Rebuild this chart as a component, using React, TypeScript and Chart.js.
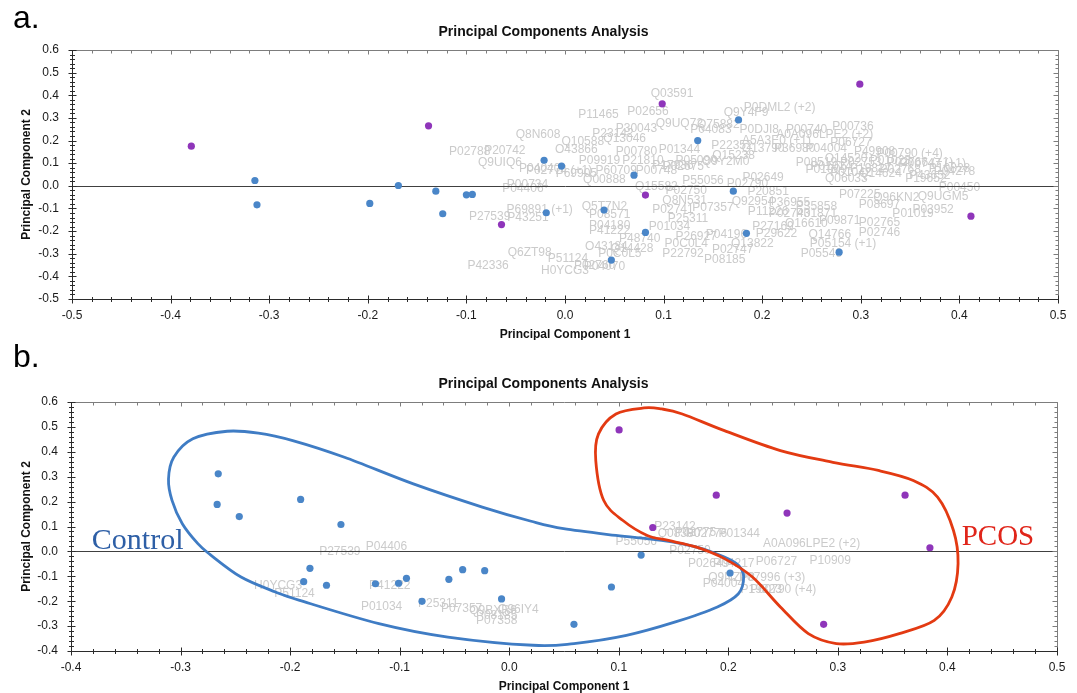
import React, { useEffect, useRef } from "react";
import Chart from "chart.js/auto";

type Pt = [number, number];
type Lbl = [string, number, number];

// ---------- Panel a ----------
const aControl: Pt[] = [
  [-0.3145, 0.0235], [-0.3124, -0.084], [-0.198, -0.078], [-0.169, 0.0015], [-0.131, -0.0235],
  [-0.124, -0.1235], [-0.1, -0.04], [-0.094, -0.038], [-0.0212, 0.113], [-0.0035, 0.087],
  [0.1346, 0.2], [0.176, 0.291], [0.07, 0.047], [0.1707, -0.0235], [-0.019, -0.119],
  [0.0396, -0.107], [0.0816, -0.206], [0.184, -0.21], [0.047, -0.328], [0.278, -0.293],
];
const aPcos: Pt[] = [
  [-0.379, 0.175], [-0.1384, 0.265], [-0.0644, -0.171], [0.0986, 0.362], [0.0816, -0.041],
  [0.299, 0.449], [0.4117, -0.134],
];
const aLabels: Lbl[] = [
  ["Q03591", 0.1085, 0.405], ["P11465", 0.034, 0.316], ["P02656", 0.0842, 0.327],
  ["P0DML2 (+2)", 0.2177, 0.346], ["Q9Y4F9", 0.1836, 0.322], ["Q9UQ72", 0.116, 0.275],
  ["Q75882", 0.1555, 0.272], ["P30043", 0.0724, 0.253], ["P04083", 0.148, 0.25],
  ["P0DJI8", 0.197, 0.246], ["P00740", 0.245, 0.249], ["P00736", 0.292, 0.263],
  ["Q8N608", -0.0274, 0.224], ["P23142", 0.0487, 0.231], ["Q13046", 0.0605, 0.209],
  ["Q10588", 0.018, 0.194], ["P02788", -0.0967, 0.15], ["P20742", -0.061, 0.153],
  ["O43866", 0.0115, 0.158], ["P00780", 0.0725, 0.15], ["P01344", 0.116, 0.158],
  ["Q9UIQ6", -0.066, 0.1015], ["A0A096LPE2 (+2)", 0.2634, 0.2237], ["P06727", 0.29, 0.19],
  ["A5A3E0 (+1)", 0.2144, 0.199], ["P22352", 0.1694, 0.1766], ["Q13790", 0.201, 0.165],
  ["P36980", 0.233, 0.165], ["P04004", 0.265, 0.165], ["P49908", 0.314, 0.15],
  ["P00790 (+4)", 0.3495, 0.143], ["Q15238", 0.171, 0.132], ["Q9Y2M0", 0.163, 0.106],
  ["P05090", 0.133, 0.113], ["P17936", 0.1095, 0.091], ["P02675", 0.12, 0.084],
  ["P60709", 0.052, 0.069], ["P00748", 0.0927, 0.069], ["P04040", -0.0256, 0.077],
  ["P69905", 0.0115, 0.055], ["P02774 (+1)", -0.006, 0.065], ["P09919", 0.035, 0.113],
  ["P21810", 0.079, 0.113], ["Q00888", 0.04, 0.025], ["P04406", -0.0427, -0.0146],
  ["P00734", -0.038, 0.003], ["Q15582", 0.0927, -0.004], ["P55056", 0.14, 0.021],
  ["P02750", 0.123, -0.023], ["P02649", 0.2009, 0.037], ["P20851", 0.206, -0.026],
  ["P02790", 0.185, 0.008], ["Q8N531", 0.1214, -0.0675], ["Q92954", 0.1907, -0.0706],
  ["P36955", 0.2277, -0.075], ["P02741", 0.1095, -0.107], ["P07357", 0.15, -0.097],
  ["P25311", 0.1247, -0.144], ["P11226", 0.206, -0.1147], ["P02743", 0.2277, -0.125],
  ["P35858", 0.255, -0.093], ["P01871", 0.255, -0.125], ["P69891 (+1)", -0.0257, -0.107],
  ["P27539", -0.0764, -0.137], ["P43251", -0.0375, -0.141], ["Q5T7N2", 0.04, -0.093],
  ["P08571", 0.0453, -0.129], ["P04180", 0.0453, -0.1765], ["P41222", 0.0453, -0.2],
  ["P01034", 0.106, -0.181], ["P48740", 0.0757, -0.232], ["P26927", 0.133, -0.225],
  ["P04196", 0.1637, -0.2175], ["P0C0L4", 0.123, -0.254], ["P02747", 0.17, -0.284],
  ["Q13822", 0.19, -0.257], ["O43184", 0.042, -0.269], ["Q14428", 0.068, -0.276],
  ["P0C0L5", 0.0556, -0.298], ["P22792", 0.1197, -0.298], ["P08185", 0.162, -0.325],
  ["Q6ZT98", -0.0358, -0.296], ["P51124", 0.003, -0.3235], ["P42336", -0.078, -0.353],
  ["H0YCG3", 0.0, -0.376], ["P02760", 0.03, -0.355], ["P04070", 0.04, -0.357],
  ["P27169", 0.211, -0.181], ["P29622", 0.2144, -0.21], ["Q16610", 0.2448, -0.166],
  ["P09871", 0.2786, -0.1545], ["P02765", 0.319, -0.163], ["P02746", 0.319, -0.207],
  ["Q14766", 0.2685, -0.2175], ["P05154 (+1)", 0.282, -0.254], ["P05546", 0.26, -0.298],
  ["Q06033", 0.2853, 0.0326], ["P07225", 0.2988, -0.041], ["Q96KN2", 0.336, -0.053],
  ["Q9UGM5", 0.3834, -0.0485], ["P00450", 0.4, -0.007], ["P01019", 0.353, -0.122],
  ["P03952", 0.3733, -0.104], ["P19652", 0.366, 0.0326], ["P08697", 0.319, -0.085],
  ["P08519", 0.255, 0.1], ["Q14520", 0.285, 0.12], ["P02753", 0.3, 0.1],
  ["P01023", 0.33, 0.11], ["P02766 (+1)", 0.36, 0.1], ["P00747 (+1)", 0.373, 0.096],
  ["P01024", 0.27, 0.085], ["P19827", 0.31, 0.075], ["P02768", 0.34, 0.07],
  ["P10828", 0.39, 0.075], ["P04278", 0.395, 0.062], ["P01042", 0.29, 0.06],
  ["Q14624", 0.32, 0.055], ["P43652", 0.37, 0.045], ["P01009", 0.265, 0.07],
];

// ---------- Panel b ----------
const bControl: Pt[] = [
  [-0.2656, 0.3115], [-0.2666, 0.1885], [-0.2464, 0.14], [-0.1904, 0.2086], [-0.1536, 0.108],
  [-0.1819, -0.068], [-0.1876, -0.1217], [-0.1668, -0.136], [-0.1221, -0.13], [-0.101, -0.128],
  [-0.0938, -0.108], [-0.0796, -0.2005], [-0.0551, -0.112], [-0.0425, -0.0735], [-0.0224, -0.0775],
  [-0.007, -0.191], [0.1204, -0.0147], [0.0933, -0.143], [0.0591, -0.293], [0.2016, -0.087],
];
const bPcos: Pt[] = [
  [0.1003, 0.488], [0.189, 0.226], [0.131, 0.096], [0.2536, 0.154], [0.3613, 0.226],
  [0.384, 0.0147], [0.287, -0.293],
];
const bLabels: Lbl[] = [
  ["P27539", -0.1546, -0.003], ["P04406", -0.112, 0.017], ["H0YCG3", -0.211, -0.136],
  ["P51124", -0.196, -0.17], ["P41222", -0.109, -0.136], ["P01034", -0.1165, -0.223],
  ["P25311", -0.0648, -0.21], ["P07357", -0.0435, -0.23], ["Q9BXR6", -0.0149, -0.237],
  ["P08185", -0.0115, -0.257], ["Q96IY4", 0.0084, -0.234], ["P07358", -0.0115, -0.277],
  ["P23142", 0.1513, 0.0975], ["Q08380", 0.155, 0.071], ["P02775", 0.17, 0.075],
  ["P02776", 0.18, 0.071], ["P01344", 0.21, 0.071], ["P55056", 0.116, 0.037],
  ["P02750", 0.165, 0.004], ["A0A096LPE2 (+2)", 0.276, 0.031], ["P02649", 0.182, -0.049],
  ["P04217", 0.205, -0.049], ["P06727", 0.244, -0.043], ["P10909", 0.293, -0.039],
  ["Q9NZP8", 0.203, -0.106], ["P07996 (+3)", 0.24, -0.106], ["P04004", 0.1955, -0.13],
  ["P19823", 0.23, -0.154], ["P00790 (+4)", 0.25, -0.154],
];
const bControlOutline: Pt[] = [
  [-0.2574, 0.4826], [-0.2888, 0.452], [-0.3062, 0.378], [-0.311, 0.291], [-0.3078, 0.205],
  [-0.2984, 0.111], [-0.2842, 0.031], [-0.2732, -0.012], [-0.2448, -0.103], [-0.2134, -0.163],
  [-0.1913, -0.1965], [-0.119, -0.29], [-0.056, -0.344], [0.0217, -0.377], [0.0591, -0.37],
  [0.107, -0.337], [0.1517, -0.283], [0.19, -0.223], [0.2092, -0.17], [0.214, -0.103],
  [0.2092, -0.056], [0.1964, -0.023], [0.171, 0.0174], [0.139, 0.044], [0.0974, 0.064],
  [0.0496, 0.091], [0.02, 0.121], [-0.0246, 0.178], [-0.0875, 0.271], [-0.1504, 0.378],
  [-0.1976, 0.445], [-0.229, 0.475],
];
const bPcosOutline: Pt[] = [
  [0.123, 0.576], [0.0974, 0.552], [0.0815, 0.472], [0.079, 0.365], [0.0863, 0.2045],
  [0.1038, 0.124], [0.126, 0.064], [0.1453, 0.044], [0.171, 0.017], [0.1964, -0.029],
  [0.222, -0.103], [0.2475, -0.223], [0.273, -0.33], [0.2986, -0.37], [0.324, -0.364],
  [0.356, -0.33], [0.388, -0.277], [0.404, -0.183], [0.4097, -0.049], [0.4055, 0.084],
  [0.391, 0.218], [0.3688, 0.285], [0.3369, 0.325], [0.2954, 0.358], [0.2475, 0.405],
  [0.1964, 0.485], [0.158, 0.552], [0.139, 0.572],
];
const bNotes: [string, number, number, string, string][] = [
  ["Control", -0.381, 0.008, "#2e5fa6", "30px"],
  ["PCOS", 0.413, 0.024, "#e0251a", "29px"],
];

const TITLE = "Principal Components Analysis";
const XTITLE = "Principal Component 1";
const YTITLE = "Principal Component 2";

const BLUE = "#4a86c8";
const PURPLE = "#8f35ba";
const SANS = '"Liberation Sans", Arial, sans-serif';

type PanelProps = {
  top: number; height: number; letter: string; letterY: number;
  xMin: number; xMax: number; yMin: number; yMax: number;
  control: Pt[]; pcos: Pt[]; labels: Lbl[];
  outlines: [Pt[], string][]; notes: [string, number, number, string, string][];
  padTop: number; padRight: number; yAxisW: number; xAxisH: number;
  titleY: number; xTitleY: number;
};

function smoothClosed(ctx: CanvasRenderingContext2D, pts: number[][]) {
  const n = pts.length;
  ctx.beginPath();
  ctx.moveTo(pts[0][0], pts[0][1]);
  for (let i = 0; i < n; i++) {
    const p0 = pts[(i - 1 + n) % n], p1 = pts[i], p2 = pts[(i + 1) % n], p3 = pts[(i + 2) % n];
    ctx.bezierCurveTo(
      p1[0] + (p2[0] - p0[0]) / 6, p1[1] + (p2[1] - p0[1]) / 6,
      p2[0] - (p3[0] - p1[0]) / 6, p2[1] - (p3[1] - p1[1]) / 6,
      p2[0], p2[1]
    );
  }
  ctx.closePath();
  ctx.stroke();
}

function Panel(p: PanelProps) {
  const ref = useRef<HTMLCanvasElement | null>(null);
  useEffect(() => {
    if (!ref.current) return;
    const decor = {
      id: "decor",
      beforeDatasetsDraw(chart: any) {
        const { ctx, chartArea: a, scales } = chart;
        const xs = scales.x, ys = scales.y;
        ctx.save();
        ctx.font = "12px " + SANS;
        ctx.fillStyle = "#cbcbcb";
        ctx.textAlign = "center";
        ctx.textBaseline = "middle";
        for (const [t, vx, vy] of p.labels) ctx.fillText(t, xs.getPixelForValue(vx), ys.getPixelForValue(vy));
        const ln = (x1: number, y1: number, x2: number, y2: number) => {
          ctx.beginPath(); ctx.moveTo(x1, y1); ctx.lineTo(x2, y2); ctx.stroke();
        };
        ctx.lineWidth = 1;
        const L = Math.round(a.left) + 0.5, R = Math.round(a.right) + 0.5;
        const T = Math.round(a.top) + 0.5, B = Math.round(a.bottom) + 0.5;
        // zero line
        const y0 = Math.round(ys.getPixelForValue(0)) + 0.5;
        ctx.strokeStyle = "#404040";
        ln(L, y0, R, y0);
        // top / right border + ticks
        ctx.strokeStyle = "#7d7d7d";
        ln(L, T, R, T);
        ln(R, T, R, B);
        const nx = Math.round((p.xMax - p.xMin) / 0.02);
        const ny = Math.round((p.yMax - p.yMin) / 0.02);
        for (let i = 0; i <= nx; i++) {
          const px = Math.round(xs.getPixelForValue(p.xMin + i * 0.02)) + 0.5;
          ln(px, T, px, T + (i % 5 === 0 ? 4 : 3));
        }
        for (let i = 0; i <= ny; i++) {
          const py = Math.round(ys.getPixelForValue(p.yMin + i * 0.02)) + 0.5;
          ln(R, py, R - (i % 5 === 0 ? 5 : 3), py);
        }
        // left / bottom axes + ticks
        ctx.strokeStyle = "#2b2b2b";
        ln(L, T, L, B);
        ln(L, B, R, B);
        for (let i = 0; i <= nx; i++) {
          const px = Math.round(xs.getPixelForValue(p.xMin + i * 0.02)) + 0.5;
          const h = i % 5 === 0 ? 4 : 2.5;
          ln(px, B - h, px, B + h);
        }
        for (let i = 0; i <= ny; i++) {
          const py = Math.round(ys.getPixelForValue(p.yMin + i * 0.02)) + 0.5;
          const w = i % 5 === 0 ? 4 : 2.5;
          ln(L - w, py, L + w, py);
        }
        ctx.restore();
      },
      afterDatasetsDraw(chart: any) {
        const { ctx, scales } = chart;
        const xs = scales.x, ys = scales.y;
        ctx.save();
        ctx.lineWidth = 2.8;
        ctx.lineJoin = "round";
        for (const [pts, col] of p.outlines) {
          ctx.strokeStyle = col;
          smoothClosed(ctx, pts.map(([vx, vy]) => [xs.getPixelForValue(vx), ys.getPixelForValue(vy)]));
        }
        ctx.textAlign = "left";
        ctx.textBaseline = "alphabetic";
        for (const [t, vx, vy, col, size] of p.notes) {
          ctx.font = size + ' "Liberation Serif", "Times New Roman", serif';
          ctx.fillStyle = col;
          ctx.fillText(t, xs.getPixelForValue(vx), ys.getPixelForValue(vy));
        }
        ctx.restore();
      },
      afterDraw(chart: any) {
        const { ctx, chartArea: a } = chart;
        ctx.save();
        ctx.fillStyle = "#111";
        ctx.textAlign = "center";
        ctx.textBaseline = "middle";
        ctx.font = "bold 14px " + SANS;
        ctx.fillText(TITLE, chart.width / 2 + 5, p.titleY);
        ctx.font = "bold 12px " + SANS;
        ctx.fillText(XTITLE, (a.left + a.right) / 2, p.xTitleY);
        ctx.save();
        ctx.translate(26.5, (a.top + a.bottom) / 2);
        ctx.rotate(-Math.PI / 2);
        ctx.fillText(YTITLE, 0, 0);
        ctx.restore();
        ctx.textAlign = "left";
        ctx.textBaseline = "alphabetic";
        ctx.font = "32px " + SANS;
        ctx.fillStyle = "#000";
        ctx.fillText(p.letter, 13, p.letterY);
        ctx.restore();
      },
    };
    const fmt = (v: any) => (Math.abs(Number(v)) < 1e-9 ? "0.0" : Number(v).toFixed(1));
    const tickFont = { family: "Liberation Sans", size: 12 };
    const chart = new Chart(ref.current, {
      type: "scatter",
      data: {
        datasets: [
          { data: p.control.map(([x, y]) => ({ x, y })), backgroundColor: BLUE, pointRadius: 3.6, borderWidth: 0 },
          { data: p.pcos.map(([x, y]) => ({ x, y })), backgroundColor: PURPLE, pointRadius: 3.6, borderWidth: 0 },
        ],
      },
      options: {
        responsive: false,
        animation: false,
        events: [],
        layout: { padding: { left: 0, right: p.padRight, top: p.padTop, bottom: 0 } },
        plugins: { legend: { display: false }, tooltip: { enabled: false } },
        scales: {
          x: {
            type: "linear", min: p.xMin, max: p.xMax,
            afterFit: (s: any) => { s.height = p.xAxisH; },
            grid: { display: false, drawTicks: false },
            border: { display: false },
            ticks: { stepSize: 0.1, autoSkip: false, maxRotation: 0, padding: 9, font: tickFont, color: "#1a1a1a", callback: fmt },
          },
          y: {
            type: "linear", min: p.yMin, max: p.yMax,
            afterFit: (s: any) => { s.width = p.yAxisW; },
            grid: { display: false, drawTicks: false },
            border: { display: false },
            ticks: { stepSize: 0.1, autoSkip: false, padding: 13, font: tickFont, color: "#1a1a1a", callback: fmt },
          },
        },
      } as any,
      plugins: [decor],
    });
    return () => chart.destroy();
  }, []);
  return (
    <canvas
      ref={ref}
      width={1077}
      height={p.height}
      style={{ position: "absolute", left: 0, top: p.top, width: 1077, height: p.height, display: "block" }}
    />
  );
}

export default function App() {
  return (
    <div style={{ position: "fixed", left: 0, top: 0, width: 1077, height: 693, overflow: "hidden", background: "#fff" }}>
      <Panel
        top={0} height={340} letter="a." letterY={28}
        xMin={-0.5} xMax={0.5} yMin={-0.5} yMax={0.6}
        control={aControl} pcos={aPcos} labels={aLabels} outlines={[]} notes={[]}
        padTop={50} padRight={19} yAxisW={72} xAxisH={41}
        titleY={32.5} xTitleY={335}
      />
      <Panel
        top={340} height={353} letter="b." letterY={26.7}
        xMin={-0.4} xMax={0.5} yMin={-0.4} yMax={0.6}
        control={bControl} pcos={bPcos} labels={bLabels}
        outlines={[[bControlOutline, "#3f7cc4"], [bPcosOutline, "#e33a12"]]} notes={bNotes}
        padTop={62} padRight={20} yAxisW={71} xAxisH={42}
        titleY={44} xTitleY={346.5}
      />
    </div>
  );
}
